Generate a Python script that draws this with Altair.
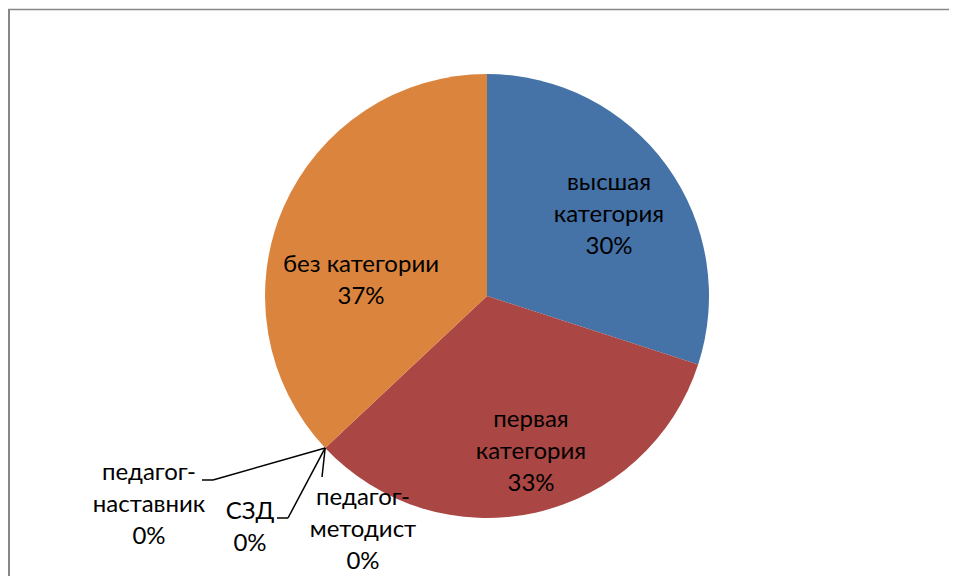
import math
import altair as alt
import pandas as pd

# ---- data ----
categories = ["высшая категория", "первая категория", "педагог-методист", "СЗД", "педагог-наставник", "без категории"]
label_text = ["высшая\nкатегория", "первая\nкатегория", "педагог-\nметодист", "СЗД", "педагог-\nнаставник", "без категории"]
percents = [30, 33, 0, 0, 0, 37]
colors = ["#4572A7", "#AA4643", "#89A54E", "#71588F", "#4198AF", "#DB843D"]

# ---- layout (chart coordinates) ----
W, H = 941, 568
CX, CY, R = 479, 288, 222
FONT = "Lato"
FS = 24
LH = 32
label_pos = {
    "высшая категория": (601, 207),
    "первая категория": (523, 444),
    "без категории": (353, 273),
    "педагог-методист": (355, 522),
    "СЗД": (242, 520),
    "педагог-наставник": (141, 497),
}
leader_ends = {
    "педагог-методист": [(314, 469)],
    "СЗД": [(280, 510), (269, 510)],
    "педагог-наставник": [(205, 472), (194, 472)],
}

df = pd.DataFrame({"cat": categories, "val": percents, "order": range(len(categories))})

total = sum(percents)
rows = []
cum = 0
anchors = {}
for c, t, v in zip(categories, label_text, percents):
    mid = (cum + v / 2) / total * 2 * math.pi
    anchors[c] = (CX + R * math.sin(mid), CY - R * math.cos(mid))
    cum += v
    lx, ly = label_pos[c]
    txt = f"{t}\n{v}%"
    n = txt.count("\n") + 1
    rows.append({"cat": c, "txt": txt, "lx": lx, "ly": ly - (n - 1) / 2 * LH})
lab = pd.DataFrame(rows)

segs = []
for c, pts in leader_ends.items():
    ax, ay = anchors[c]
    chain = [(ax, ay)] + pts
    for (x1, y1), (x2, y2) in zip(chain[:-1], chain[1:]):
        segs.append({"x": x1, "y": y1, "x2": x2, "y2": y2})
seg = pd.DataFrame(segs)

pie = alt.Chart(df).mark_arc(outerRadius=R, strokeWidth=0).encode(
    theta=alt.Theta("val:Q", stack=True),
    order=alt.Order("order:Q"),
    color=alt.Color("cat:N", scale=alt.Scale(domain=categories, range=colors), legend=None),
    x=alt.value(CX),
    y=alt.value(CY),
)

labels = alt.Chart(lab).mark_text(
    font=FONT, fontSize=FS, color="#000000", lineBreak="\n", lineHeight=LH,
    align="center", baseline="middle",
).encode(
    x=alt.X("lx:Q", scale=None),
    y=alt.Y("ly:Q", scale=None),
    text="txt:N",
)

leaders = alt.Chart(seg).mark_rule(color="#000000", strokeWidth=1.5).encode(
    x=alt.X("x:Q", scale=None),
    y=alt.Y("y:Q", scale=None),
    x2="x2:Q",
    y2="y2:Q",
)

frame_top = alt.Chart(pd.DataFrame({"a": [0]})).mark_rule(color="#878787", strokeWidth=1.5).encode(
    x=alt.value(0), x2=alt.value(W + 20), y=alt.value(1.5)
)
frame_left = alt.Chart(pd.DataFrame({"a": [0]})).mark_rule(color="#878787", strokeWidth=2).encode(
    x=alt.value(1), y=alt.value(1), y2=alt.value(H + 20)
)

chart = alt.layer(pie, leaders, labels, frame_top, frame_left).properties(
    width=W, height=H, autosize=alt.AutoSizeParams(type="none"), padding=0,
    background="white",
).configure_view(stroke="transparent", strokeWidth=0, strokeOpacity=0, fill="white")

chart.save("out.html", embed_options={"renderer": "svg", "actions": False})
